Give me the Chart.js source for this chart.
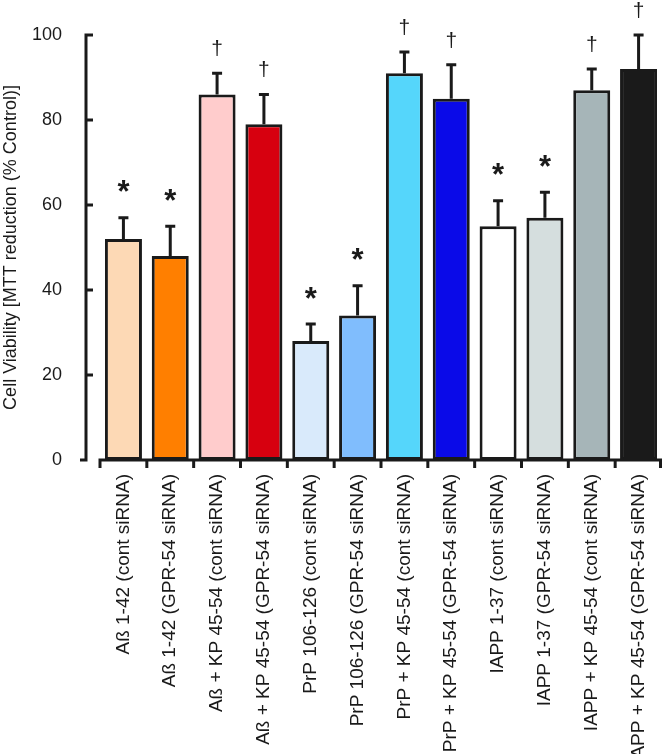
<!DOCTYPE html>
<html>
<head>
<meta charset="utf-8">
<script src="https://cdn.jsdelivr.net/npm/chart.js@4.4.0/dist/chart.umd.min.js"></script>
<style>
  body { margin: 0; background: #fff; }
  #wrap { width: 664px; height: 754px; }
</style>
</head>
<body>
<div id="wrap"><canvas id="chart" width="664" height="754"></canvas></div>
<script>
// values
var labels = [
  "Aß 1-42 (cont siRNA)",
  "Aß 1-42 (GPR-54 siRNA)",
  "Aß + KP 45-54 (cont siRNA)",
  "Aß + KP 45-54 (GPR-54 siRNA)",
  "PrP 106-126 (cont siRNA)",
  "PrP 106-126 (GPR-54 siRNA)",
  "PrP + KP 45-54 (cont siRNA)",
  "PrP + KP 45-54 (GPR-54 siRNA)",
  "IAPP 1-37 (cont siRNA)",
  "IAPP 1-37 (GPR-54 siRNA)",
  "IAPP + KP 45-54 (cont siRNA)",
  "IAPP + KP 45-54 (GPR-54 siRNA)"
];
var viability = [52, 48, 86, 79, 28, 34, 91, 85, 55, 57, 87, 92];
var errors = [5, 7, 5, 7, 4, 7, 5, 8, 6, 6, 5, 8];
var marks = ["*", "*", "\u2020", "\u2020", "*", "*", "\u2020", "\u2020", "*", "*", "\u2020", "\u2020"];
var barColors = ["#fdd9b5", "#ff7f00", "#ffcccc", "#d7000f", "#d9eafb", "#80bdfd",
                 "#55d6fb", "#0a0ae8", "#ffffff", "#d5dede", "#a6b5b8", "#1a1a1a"];
var yTicks = [0, 20, 40, 60, 80, 100];

var ink = "#1a1a1a";
var fontFam = '"Liberation Sans", Arial, Helvetica, sans-serif';

// axes, error bars and significance marks
var extras = {
  id: "extras",
  afterDatasetsDraw: function(chart) {
    var ctx = chart.ctx;
    var xs = chart.scales.x, ys = chart.scales.y;
    var meta = chart.getDatasetMeta(0);
    ctx.save();
    ctx.strokeStyle = ink;
    ctx.fillStyle = ink;
    ctx.lineWidth = 3;
    ctx.lineCap = "butt";
    ctx.textAlign = "center";
    ctx.textBaseline = "middle";

    meta.data.forEach(function(bar, i) {
      var top = ys.getPixelForValue(viability[i] + errors[i]);
      ctx.beginPath();
      ctx.moveTo(bar.x, bar.y);
      ctx.lineTo(bar.x, top);
      ctx.moveTo(bar.x - 5, top);
      ctx.lineTo(bar.x + 5, top);
      ctx.stroke();
      if (marks[i] === "*") {
        ctx.font = "bold 31px " + fontFam;
        ctx.fillText("*", bar.x, top - 24);
      } else {
        ctx.font = "21px " + fontFam;
        ctx.fillText(marks[i], bar.x, top - 24);
      }
    });

    // y axis with inward ticks
    var ax = xs.left - 14;
    var y0 = ys.getPixelForValue(0);
    ctx.beginPath();
    ctx.moveTo(ax, ys.getPixelForValue(100) - 1.5);
    ctx.lineTo(ax, y0 + 1.5);
    yTicks.forEach(function(v) {
      var py = ys.getPixelForValue(v);
      if (v === 0) {
        ctx.moveTo(ax - 6, py);
        ctx.lineTo(ax, py);
      } else {
        ctx.moveTo(ax, py);
        ctx.lineTo(ax + 7, py);
      }
    });
    ctx.stroke();

    // x axis with ticks between categories
    var half = (xs.getPixelForTick(1) - xs.getPixelForTick(0)) / 2;
    var x0 = xs.getPixelForTick(0) - half;
    var x1 = xs.getPixelForTick(labels.length - 1) + half;
    ctx.beginPath();
    ctx.moveTo(x0 - 1.5, y0);
    ctx.lineTo(x1, y0);
    for (var i = 0; i <= labels.length; i++) {
      var px = Math.min(x0 + i * half * 2, x1 - 1.5);
      ctx.moveTo(px, y0);
      ctx.lineTo(px, y0 + 8);
    }
    ctx.stroke();
    ctx.restore();
  }
};

var ctx = document.getElementById("chart").getContext("2d");
var chart = new Chart(ctx, {
  type: "bar",
  data: {
    labels: labels,
    datasets: [{
      data: viability,
      backgroundColor: barColors,
      borderColor: ink,
      borderWidth: 3,
      borderSkipped: false,
      barPercentage: 0.79,
      categoryPercentage: 1
    }]
  },
  options: {
    responsive: false,
    animation: false,
    events: [],
    layout: { padding: { top: 35, right: 2, left: 0, bottom: 0 } },
    plugins: {
      legend: { display: false },
      tooltip: { enabled: false }
    },
    scales: {
      x: {
        offset: true,
        grid: { display: false, drawTicks: false },
        border: { display: false },
        ticks: {
          autoSkip: false,
          minRotation: 90,
          maxRotation: 90,
          padding: 14,
          color: ink,
          font: { family: fontFam, size: 19 }
        },
        afterFit: function(s) {
          s.height = 294;
          s.paddingLeft = 0;
          s.paddingRight = 0;
        }
      },
      y: {
        min: 0,
        max: 100,
        grid: { display: false, drawTicks: false },
        border: { display: false },
        ticks: {
          stepSize: 20,
          padding: 38,
          color: ink,
          font: { family: fontFam, size: 18 }
        },
        title: {
          display: true,
          text: "Cell Viability [MTT reduction (% Control)]",
          color: ink,
          padding: { top: 0, bottom: 0 },
          font: { family: fontFam, size: 18 }
        },
        afterFit: function(s) {
          s.width = 100;
          s.paddingTop = 0;
          s.paddingBottom = 0;
        }
      }
    }
  },
  plugins: [extras]
});
</script>
</body>
</html>
